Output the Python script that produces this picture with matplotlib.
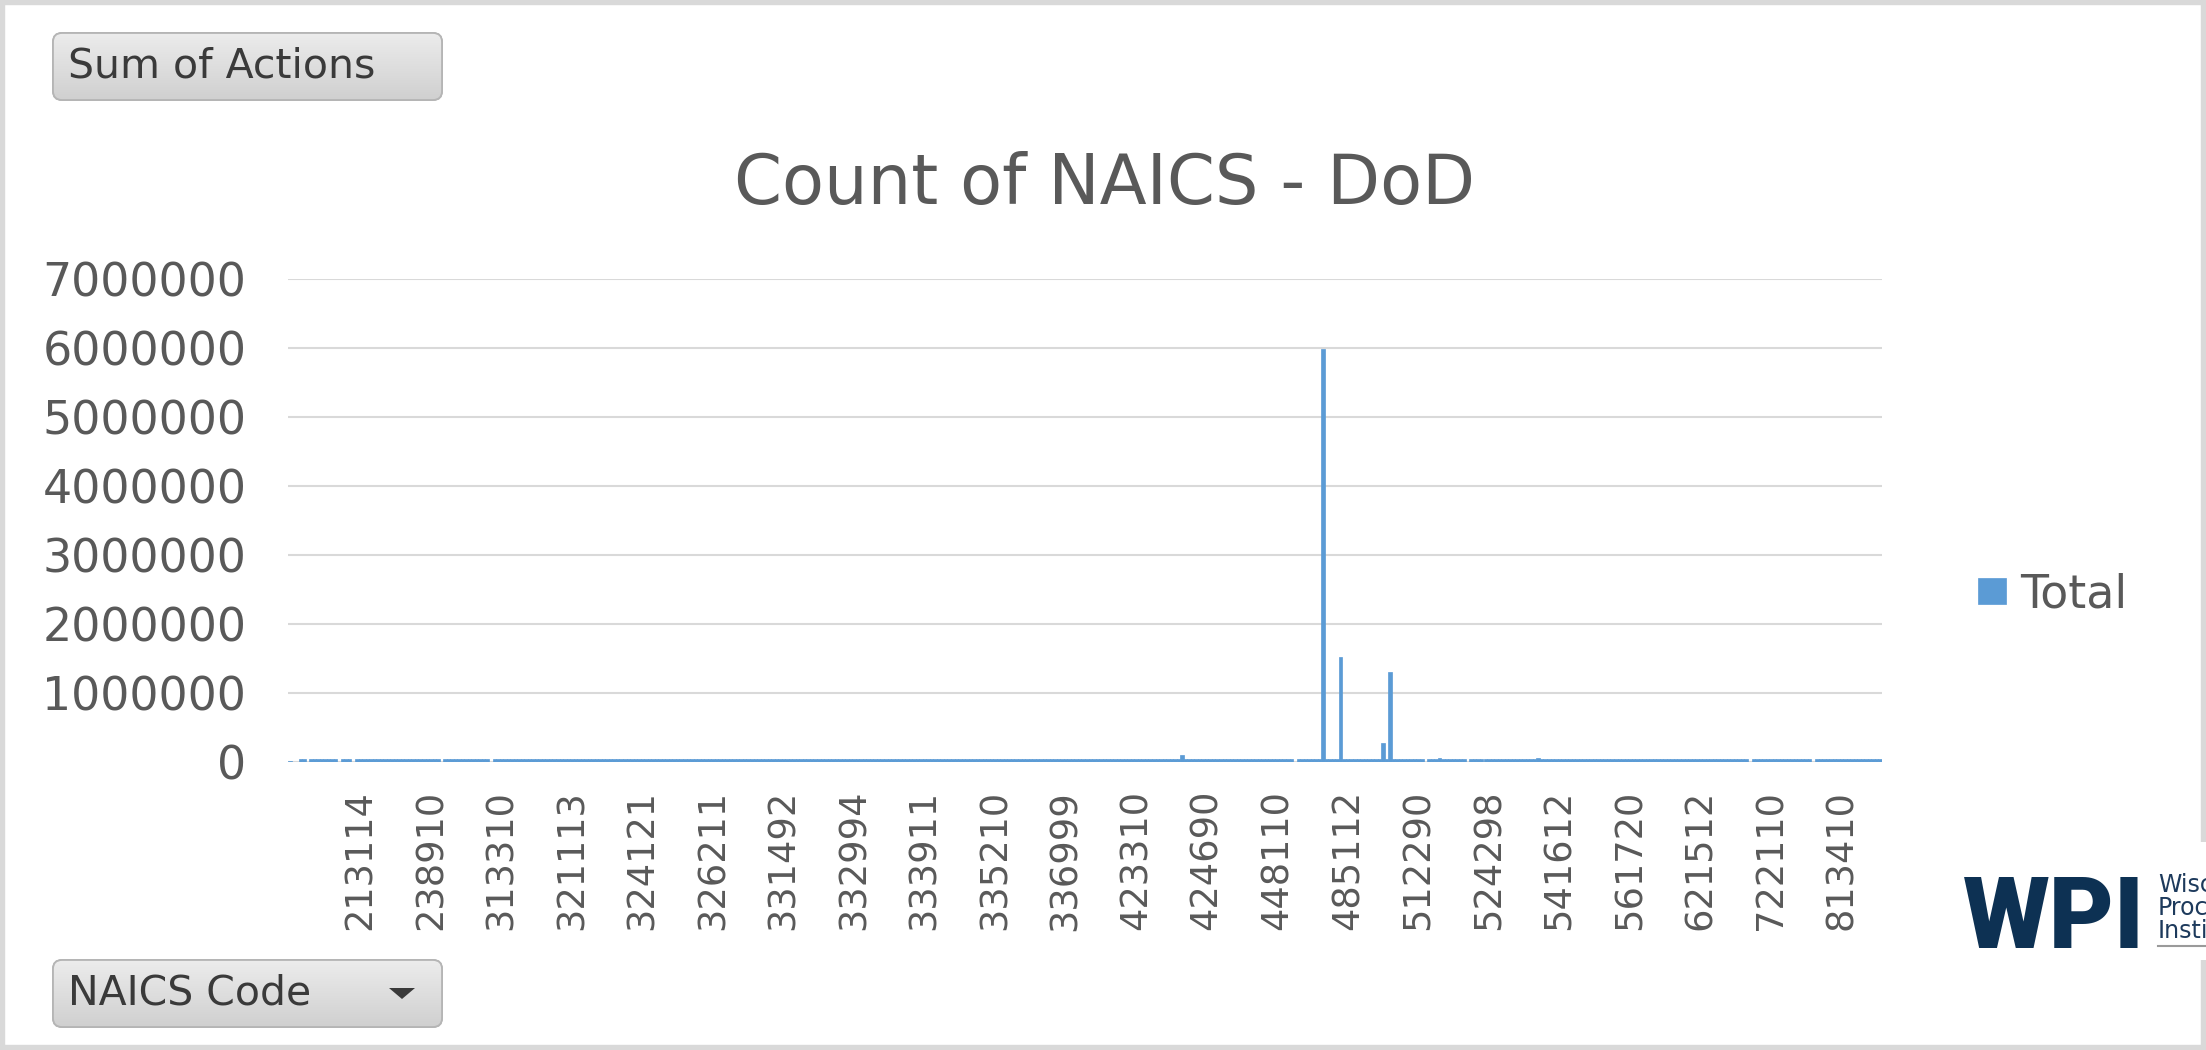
import numpy as np
import matplotlib
matplotlib.use("Agg")
import matplotlib.pyplot as plt
from matplotlib.patches import FancyBboxPatch, Rectangle, Polygon
from matplotlib.lines import Line2D
from matplotlib.transforms import IdentityTransform
from matplotlib.ticker import FuncFormatter

# ---------------- data ----------------
title = "Count of NAICS - DoD"
series_name = "Total"
value_field = "Sum of Actions"
axis_field = "NAICS Code"

# Excel shows every 20th NAICS code as a tick label
tick_labels = ["213114", "238910", "313310", "321113", "324121", "326211",
               "331492", "332994", "333911", "335210", "336999", "423310",
               "424690", "448110", "485112", "512290", "524298", "541612",
               "561720", "621512", "722110", "813410"]
label_interval = 20

# Sum of actions per NAICS code (thousands), one row per 20 codes
actions_k = [
    15, 0, 0, 40, 40, 0, 40, 40, 40, 40, 40, 40, 40, 40, 0, 40, 40, 40, 0, 40,
    40, 40, 40, 40, 40, 40, 40, 40, 40, 40, 40, 40, 40, 40, 40, 40, 40, 40, 40, 40,
    40, 40, 40, 0, 40, 40, 40, 40, 40, 40, 40, 40, 40, 40, 40, 40, 40, 0, 40, 40,
    40, 40, 40, 40, 40, 40, 40, 40, 40, 40, 40, 40, 40, 40, 40, 40, 40, 40, 40, 40,
    40, 40, 40, 40, 40, 40, 40, 40, 40, 40, 40, 40, 40, 40, 40, 40, 40, 40, 40, 40,
    40, 40, 40, 40, 40, 40, 40, 40, 40, 40, 40, 40, 40, 40, 40, 40, 40, 40, 40, 40,
    40, 40, 40, 40, 40, 40, 40, 40, 40, 40, 40, 40, 40, 40, 40, 40, 40, 40, 40, 40,
    40, 40, 40, 40, 40, 40, 40, 40, 40, 40, 40, 40, 40, 40, 40, 40, 40, 40, 40, 40,
    40, 40, 40, 40, 40, 40, 40, 40, 40, 40, 40, 40, 40, 40, 40, 40, 40, 40, 40, 40,
    40, 40, 40, 40, 40, 40, 40, 40, 40, 40, 40, 40, 40, 40, 40, 40, 40, 40, 40, 40,
    40, 40, 40, 40, 40, 40, 40, 40, 40, 40, 40, 40, 40, 40, 40, 40, 40, 40, 40, 40,
    40, 40, 40, 40, 40, 40, 40, 40, 40, 40, 40, 40, 40, 40, 40, 40, 40, 40, 40, 40,
    40, 40, 40, 40, 40, 40, 40, 40, 40, 40, 40, 40, 40, 100, 40, 40, 40, 40, 40, 40,
    40, 40, 40, 40, 40, 40, 40, 40, 40, 40, 40, 40, 40, 40, 40, 40, 40, 40, 40, 40,
    40, 40, 40, 40, 40, 0, 40, 40, 40, 40, 40, 40, 40, 5980, 40, 40, 40, 40, 1520, 40,
    40, 40, 40, 40, 40, 40, 40, 40, 40, 40, 270, 40, 1310, 40, 40, 40, 40, 40, 40, 40,
    40, 40, 0, 40, 40, 40, 60, 40, 40, 40, 40, 40, 40, 40, 0, 40, 40, 40, 40, 40,
    40, 40, 40, 40, 40, 40, 40, 40, 40, 40, 40, 40, 40, 40, 60, 40, 40, 40, 40, 40,
    40, 40, 40, 40, 40, 40, 40, 40, 40, 40, 40, 40, 40, 40, 40, 40, 40, 40, 40, 40,
    40, 40, 40, 40, 40, 40, 40, 40, 40, 40, 40, 40, 40, 40, 40, 40, 40, 40, 40, 40,
    40, 40, 40, 40, 40, 40, 40, 40, 40, 40, 40, 40, 40, 40, 0, 40, 40, 40, 40, 40,
    40, 40, 40, 40, 40, 40, 40, 40, 40, 40, 40, 40, 0, 40, 40, 40, 40, 40, 40, 40,
    40, 40, 40, 40, 40, 40, 40, 40, 40, 40, 40, 40,
]
y_max = 7000000
y_step = 1000000

# ---------------- figure ----------------
W, H = 2206, 1050
fig = plt.figure(figsize=(W / 100, H / 100), dpi=100)
fig.patch.set_facecolor("white")
TXT = "#595959"
BLUE = "#5b9bd5"
ID = IdentityTransform()

def px(x, y):
    return x, H - y

# outer frame
fig.add_artist(Rectangle((0, 0), W, H, transform=ID, fill=False,
                         edgecolor="#d9d9d9", linewidth=7.5, zorder=0))

ax = fig.add_axes([288 / W, 1 - 762 / H, (1882 - 288) / W, (762 - 279) / H])
values = np.array(actions_k) * 1000
n = len(values)
x = np.arange(n)
bars = ax.bar(x, values, width=1.0, color=BLUE, edgecolor=BLUE,
              linewidth=0.5, zorder=3, label=series_name)
ax.set_xlim(-0.5, n - 0.5)
ax.set_ylim(0, y_max)
ax.set_yticks(np.arange(0, y_max + 1, y_step))
ax.yaxis.set_major_formatter(FuncFormatter(lambda v, p: f"{int(round(v))}"))
ax.yaxis.grid(True, color="#d9d9d9", linewidth=1.5, zorder=0)
ax.set_axisbelow(True)
for s in ax.spines.values():
    s.set_visible(False)
tick_pos = [label_interval * (i + 1) for i in range(len(tick_labels))]
ax.set_xticks(tick_pos)
ax.set_xticklabels(tick_labels, rotation=90)
ax.tick_params(axis="y", length=0, pad=30, labelsize=33, labelcolor=TXT)
ax.tick_params(axis="x", length=0, pad=20, labelsize=26.5, labelcolor=TXT)

ax.legend(handles=[bars], labels=[series_name], loc="center left",
          bbox_to_anchor=(1978 / W, 1 - 595 / H), bbox_transform=fig.transFigure,
          frameon=False, fontsize=33, labelcolor=TXT, handlelength=0.62,
          handleheight=0.48, handletextpad=0.3, borderpad=0, borderaxespad=0)

fig.text(1105 / W, 1 - 204 / H, title, ha="center", va="baseline",
         fontsize=49.5, color=TXT)

# pivot field buttons
def button(x0, y0, x1, y1, label):
    patch = FancyBboxPatch(px(x0, y1), x1 - x0, y1 - y0,
                           boxstyle="round,pad=0,rounding_size=9",
                           transform=ID, facecolor="#dadada",
                           edgecolor="#b5b5b5", linewidth=1.3, zorder=2)
    fig.add_artist(patch)
    h, w = int(y1 - y0), int(x1 - x0)
    top = np.array([0.925, 0.925, 0.925])
    bot = np.array([0.815, 0.815, 0.815])
    t = np.linspace(0, 1, h)[:, None, None]
    grad = np.repeat(top * (1 - t) + bot * t, w, axis=1)
    im = fig.figimage(grad, xo=x0, yo=H - y1, origin="upper", zorder=2.5)
    im.set_clip_path(patch)
    fig.add_artist(FancyBboxPatch(px(x0, y1), x1 - x0, y1 - y0,
                                  boxstyle="round,pad=0,rounding_size=9",
                                  transform=ID, fill=False,
                                  edgecolor="#b5b5b5", linewidth=1.3, zorder=3))
    fig.text((x0 + 15) / W, 1 - (y0 + y1) / 2 / H, label, ha="left",
             va="center", fontsize=29.5, color="#3a3a3a", zorder=4)

button(53, 33, 442, 100, value_field)
button(53, 960, 442, 1027, axis_field)
fig.add_artist(Polygon([px(389, 988), px(415, 988), px(402, 999)], closed=True,
                       transform=ID, facecolor="#3a3a3a", edgecolor="none",
                       zorder=4))

# logo
fig.add_artist(Rectangle(px(1958, 960), W - 1958, 118, transform=ID,
                         facecolor="white", edgecolor="none", zorder=5))
fig.text(1963 / W, 1 - 948 / H, "WPI", ha="left", va="baseline",
         fontsize=72, fontweight="black", family=["Roboto", "DejaVu Sans"],
         color="#0d3153", zorder=6)
for yy, s in [(892, "Wisconsin"), (915, "Procurement"), (938, "Institute")]:
    fig.text(2158 / W, 1 - yy / H, s, ha="left", va="baseline", fontsize=17,
             color="#1d3a5c", zorder=6)
fig.add_artist(Line2D([2158, W], [H - 946, H - 946], transform=ID,
                      color="#9a9a9a", linewidth=1.5, zorder=6))

fig.savefig("out.png", dpi=100)
